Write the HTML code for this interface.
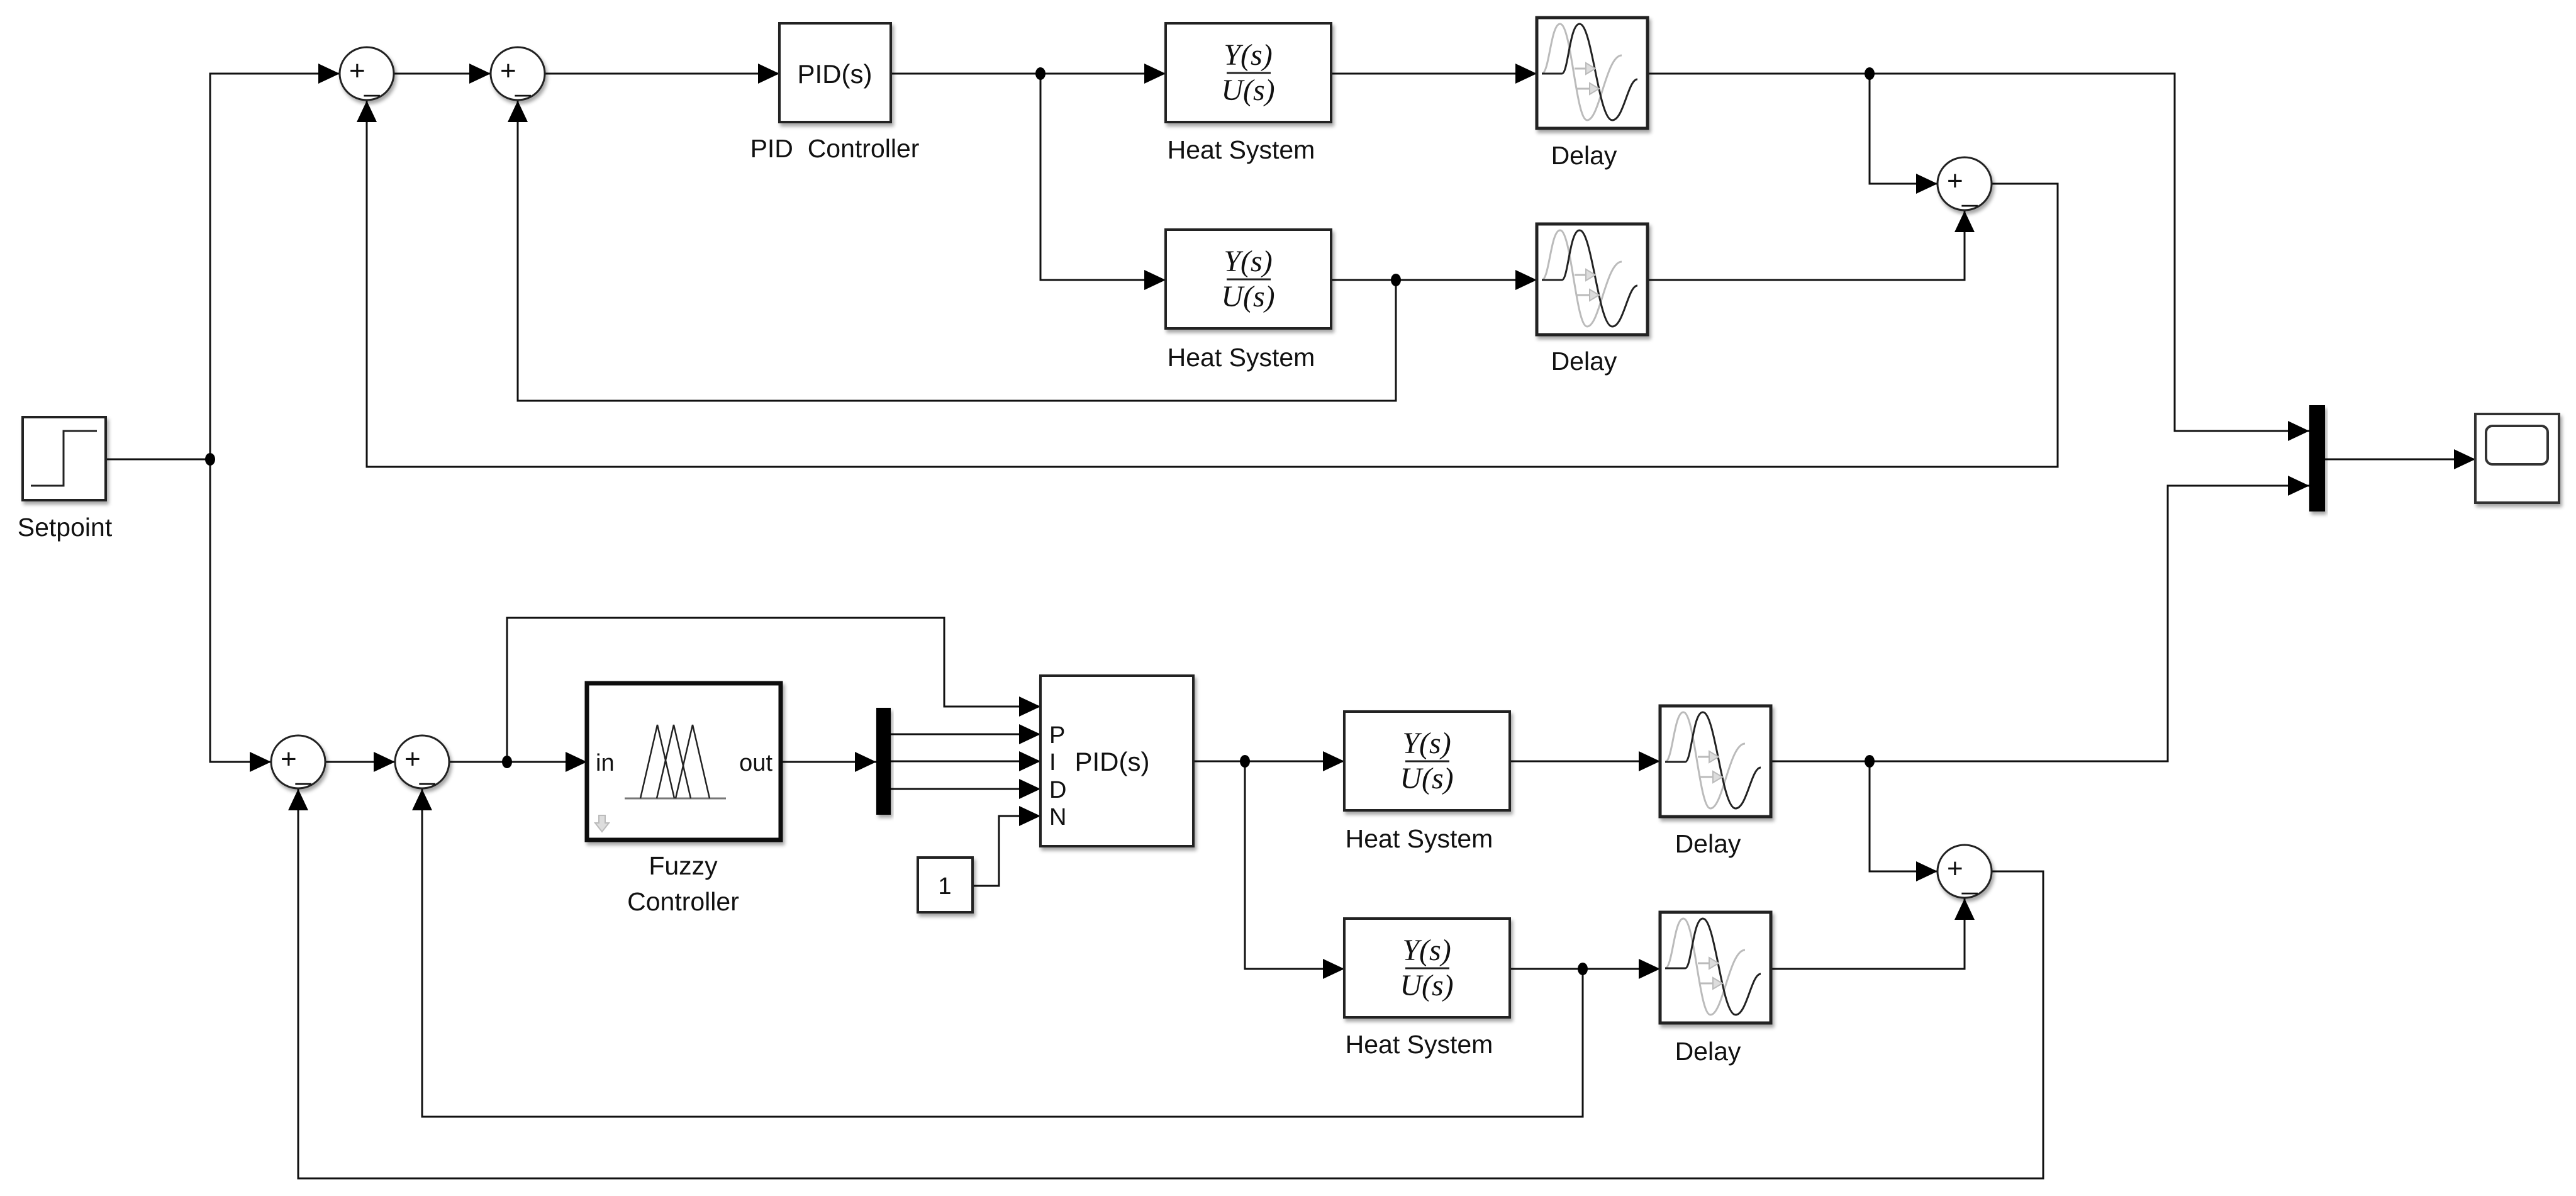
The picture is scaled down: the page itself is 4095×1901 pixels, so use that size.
<!DOCTYPE html>
<html><head><meta charset="utf-8"><style>
html,body{margin:0;padding:0;background:#fff;}
svg{display:block;}
text{font-family:"Liberation Sans",Arial,sans-serif;fill:#111;}
.fr{font-family:"Liberation Serif",serif;font-style:italic;font-size:48px;}
</style></head><body>
<svg width="4095" height="1901" viewBox="0 0 4095 1901" xmlns="http://www.w3.org/2000/svg">
<defs>
<marker id="a" viewBox="0 0 34 32" refX="34" refY="16" markerWidth="34" markerHeight="32" markerUnits="userSpaceOnUse" orient="auto"><path d="M0,0L34,16L0,32z" fill="#000"/></marker>
<filter id="sh" x="-10%" y="-10%" width="130%" height="130%"><feDropShadow dx="3" dy="5" stdDeviation="3" flood-color="#000" flood-opacity="0.35"/></filter>
<g id="delay">
<rect x="0" y="0" width="176" height="176" fill="#fff" stroke="#222" stroke-width="5" filter="url(#sh)"/>
<path d="M8,89 C20,89 22,10 37,10 C55,10 62,163 80,163 C100,163 110,60 135,60" fill="none" stroke="#bbb" stroke-width="3"/>
<path d="M8,89 L40,89 C50,89 52,10 68,10 C88,10 98,163 120,163 C138,163 145,98 160,98" fill="none" stroke="#222" stroke-width="3"/>
<path d="M60,81 L78,81" stroke="#bbb" stroke-width="3"/><path d="M78,72 L93,81 L78,90z" fill="#ddd" stroke="#bbb" stroke-width="2"/>
<path d="M64,113 L84,113" stroke="#bbb" stroke-width="3"/><path d="M84,104 L99,113 L84,122z" fill="#ddd" stroke="#bbb" stroke-width="2"/>
</g>
<g id="hs">
<rect x="0" y="0" width="263" height="157" fill="#fff" stroke="#222" stroke-width="4" filter="url(#sh)"/>
<text class="fr" x="131" y="66" text-anchor="middle">Y(s)</text>
<line x1="97" y1="79" x2="167" y2="79" stroke="#222" stroke-width="3"/>
<text class="fr" x="131" y="122" text-anchor="middle">U(s)</text>
</g>
<g id="sum">
<ellipse cx="0" cy="0" rx="43" ry="42" fill="#fff" stroke="#222" stroke-width="3" filter="url(#sh)"/>
<text x="-28" y="10" font-size="44">+</text>
<text x="-4" y="28" font-size="44">_</text>
</g>
</defs>

<g fill="none" stroke="#111" stroke-width="3">
<polyline points="168,730 334,730"/>
<polyline points="334,730 334,117 540,117" marker-end="url(#a)"/>
<polyline points="334,730 334,1211 431,1211" marker-end="url(#a)"/>
<polyline points="626,117 780,117" marker-end="url(#a)"/>
<polyline points="866,117 1239,117" marker-end="url(#a)"/>
<polyline points="1416,117 1853,117" marker-end="url(#a)"/>
<polyline points="1654,117 1654,445 1853,445" marker-end="url(#a)"/>
<polyline points="2116,117 2443,117" marker-end="url(#a)"/>
<polyline points="2116,445 2443,445" marker-end="url(#a)"/>
<polyline points="2219,445 2219,637 823,637 823,160" marker-end="url(#a)"/>
<polyline points="2619,117 3457,117 3457,685 3671,685" marker-end="url(#a)"/>
<polyline points="2972,117 2972,292 3080,292" marker-end="url(#a)"/>
<polyline points="2619,445 3123,445 3123,335" marker-end="url(#a)"/>
<polyline points="3166,292 3271,292 3271,742 583,742 583,160" marker-end="url(#a)"/>
<polyline points="3696,730 3935,730" marker-end="url(#a)"/>
<polyline points="517,1211 628,1211" marker-end="url(#a)"/>
<polyline points="714,1211 933,1211" marker-end="url(#a)"/>
<polyline points="806,1211 806,982 1501,982 1501,1123 1654,1123" marker-end="url(#a)"/>
<polyline points="1241,1211 1393,1211" marker-end="url(#a)"/>
<polyline points="1416,1167 1654,1167" marker-end="url(#a)"/>
<polyline points="1416,1210 1654,1210" marker-end="url(#a)"/>
<polyline points="1416,1254 1654,1254" marker-end="url(#a)"/>
<polyline points="1546,1408 1588,1408 1588,1297 1654,1297" marker-end="url(#a)"/>
<polyline points="1897,1210 2137,1210" marker-end="url(#a)"/>
<polyline points="1979,1210 1979,1540 2137,1540" marker-end="url(#a)"/>
<polyline points="2400,1210 2639,1210" marker-end="url(#a)"/>
<polyline points="2400,1540 2639,1540" marker-end="url(#a)"/>
<polyline points="2516,1540 2516,1775 671,1775 671,1254" marker-end="url(#a)"/>
<polyline points="2816,1210 3446,1210 3446,772 3671,772" marker-end="url(#a)"/>
<polyline points="2972,1210 2972,1385 3080,1385" marker-end="url(#a)"/>
<polyline points="2816,1540 3123,1540 3123,1428" marker-end="url(#a)"/>
<polyline points="3166,1385 3248,1385 3248,1873 474,1873 474,1254" marker-end="url(#a)"/>
</g>
<g fill="#000">
<ellipse cx="334" cy="730" rx="8" ry="10"/>
<ellipse cx="1654" cy="117" rx="8" ry="10"/>
<ellipse cx="2219" cy="445" rx="8" ry="10"/>
<ellipse cx="2972" cy="117" rx="8" ry="10"/>
<ellipse cx="806" cy="1211" rx="8" ry="10"/>
<ellipse cx="1979" cy="1210" rx="8" ry="10"/>
<ellipse cx="2516" cy="1540" rx="8" ry="10"/>
<ellipse cx="2972" cy="1210" rx="8" ry="10"/>
</g>

<rect x="36" y="663" width="132" height="132" fill="#fff" stroke="#222" stroke-width="4" filter="url(#sh)"/>
<polyline points="49,772 101,772 101,685 154,685" fill="none" stroke="#222" stroke-width="3"/>
<text x="103" y="852" font-size="41" text-anchor="middle">Setpoint</text>

<use href="#sum" x="583" y="117"/>
<use href="#sum" x="823" y="117"/>
<use href="#sum" x="3123" y="292"/>
<use href="#sum" x="474" y="1211"/>
<use href="#sum" x="671" y="1211"/>
<use href="#sum" x="3123" y="1385"/>

<rect x="1239" y="37" width="177" height="157" fill="#fff" stroke="#222" stroke-width="4" filter="url(#sh)"/>
<text x="1327" y="132" font-size="42" text-anchor="middle">PID(s)</text>
<text x="1327" y="250" font-size="41" text-anchor="middle" xml:space="preserve">PID  Controller</text>

<use href="#hs" x="1853" y="37"/>
<text x="1973" y="252" font-size="41" text-anchor="middle">Heat System</text>
<use href="#hs" x="1853" y="365"/>
<text x="1973" y="582" font-size="41" text-anchor="middle">Heat System</text>
<use href="#delay" x="2443" y="28"/>
<text x="2518" y="261" font-size="41" text-anchor="middle">Delay</text>
<use href="#delay" x="2443" y="356"/>
<text x="2518" y="588" font-size="41" text-anchor="middle">Delay</text>

<rect x="3671" y="644" width="25" height="169" fill="#000" filter="url(#sh)"/>
<rect x="3935" y="658" width="133" height="141" fill="#fff" stroke="#333" stroke-width="4" filter="url(#sh)"/>
<rect x="3952" y="677" width="98" height="61" rx="10" fill="#fff" stroke="#333" stroke-width="4"/>

<rect x="933" y="1086" width="308" height="249" fill="#fff" stroke="#111" stroke-width="7" filter="url(#sh)"/>
<text x="947" y="1225" font-size="38">in</text>
<text x="1228" y="1225" font-size="38" text-anchor="end">out</text>
<line x1="993" y1="1269" x2="1154" y2="1269" stroke="#777" stroke-width="3"/>
<polyline points="1018,1269 1045,1152 1072,1269" fill="none" stroke="#222" stroke-width="2.5"/>
<polyline points="1044,1269 1071,1152 1098,1269" fill="none" stroke="#222" stroke-width="2.5"/>
<polyline points="1074,1269 1101,1152 1128,1269" fill="none" stroke="#222" stroke-width="2.5"/>
<path d="M952,1296 L952,1308 L946,1308 L957,1322 L968,1308 L962,1308 L962,1296z" fill="#ddd" stroke="#bbb" stroke-width="2"/>
<text x="1086" y="1390" font-size="41" text-anchor="middle">Fuzzy</text>
<text x="1086" y="1447" font-size="41" text-anchor="middle">Controller</text>

<rect x="1393" y="1125" width="23" height="170" fill="#000" filter="url(#sh)"/>

<rect x="1654" y="1074" width="243" height="271" fill="#fff" stroke="#222" stroke-width="4" filter="url(#sh)"/>
<text x="1668" y="1181" font-size="38">P</text>
<text x="1668" y="1224" font-size="38">I</text>
<text x="1668" y="1268" font-size="38">D</text>
<text x="1668" y="1311" font-size="38">N</text>
<text x="1768" y="1225" font-size="42" text-anchor="middle">PID(s)</text>

<rect x="1459" y="1363" width="87" height="87" fill="#fff" stroke="#222" stroke-width="4" filter="url(#sh)"/>
<text x="1502" y="1421" font-size="38" text-anchor="middle">1</text>

<use href="#hs" x="2137" y="1131"/>
<text x="2256" y="1347" font-size="41" text-anchor="middle">Heat System</text>
<use href="#hs" x="2137" y="1460"/>
<text x="2256" y="1674" font-size="41" text-anchor="middle">Heat System</text>
<use href="#delay" x="2639" y="1122"/>
<text x="2715" y="1355" font-size="41" text-anchor="middle">Delay</text>
<use href="#delay" x="2639" y="1450"/>
<text x="2715" y="1685" font-size="41" text-anchor="middle">Delay</text>
</svg>
</body></html>
